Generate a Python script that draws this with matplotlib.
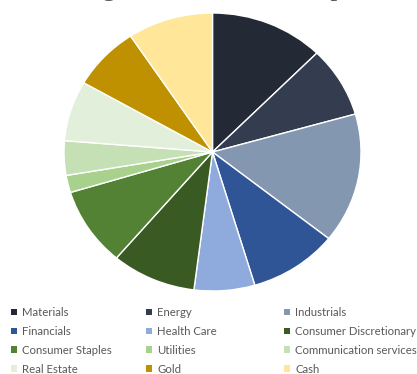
import matplotlib.pyplot as plt
from matplotlib.patches import Patch

sectors = ['Materials', 'Energy', 'Industrials', 'Financials', 'Health Care',
           'Consumer Discretionary', 'Consumer Staples', 'Utilities',
           'Communication services', 'Real Estate', 'Gold', 'Cash']
weights = [12.4, 8.2, 15.1, 9.7, 6.6, 9.2, 9.1, 2.0, 4.0, 7.0, 7.4, 9.3]
colors = ['#232A36', '#333D4F', '#8497B0', '#2F5597', '#8FAADC', '#3A5A24',
          '#548235', '#A9D18E', '#C5E0B4', '#E2EFDA', '#BF9000', '#FFE699']
title = 'Target Allocation Example'

fig = plt.figure(figsize=(4.17, 3.74), dpi=100)

# pie is slightly stretched horizontally in the reference, so aspect is auto
ax = fig.add_axes([64 / 417, 83 / 374, 297 / 417, 278 / 374])
ax.pie(weights, colors=colors, startangle=90, counterclock=False,
       wedgeprops=dict(edgecolor='white', linewidth=1))
ax.set_aspect('auto')
ax.set_xlim(-1, 1)
ax.set_ylim(-1, 1)

# title sits mostly above the canvas, only descenders show
fig.text(0.515, 1 + 5 / 374, title, ha='center', va='baseline',
         fontsize=20, family='Liberation Serif', color='#595959')

# legend laid out row by row, one legend per column
col_x = [11 / 417, 146 / 417, 284 / 417]
for c in range(3):
    idx = list(range(c, len(sectors), 3))
    handles = [Patch(facecolor=colors[i]) for i in idx]
    fig.legend(handles, [sectors[i] for i in idx], loc='upper left',
               bbox_to_anchor=(col_x[c], 67 / 374), frameon=False,
               prop=dict(family='Lato', size=8.2), labelcolor='#595959',
               handlelength=0.55, handleheight=0.55, handletextpad=0.45,
               labelspacing=0.7, borderaxespad=0, borderpad=0)

fig.savefig('out.png', dpi=100)
